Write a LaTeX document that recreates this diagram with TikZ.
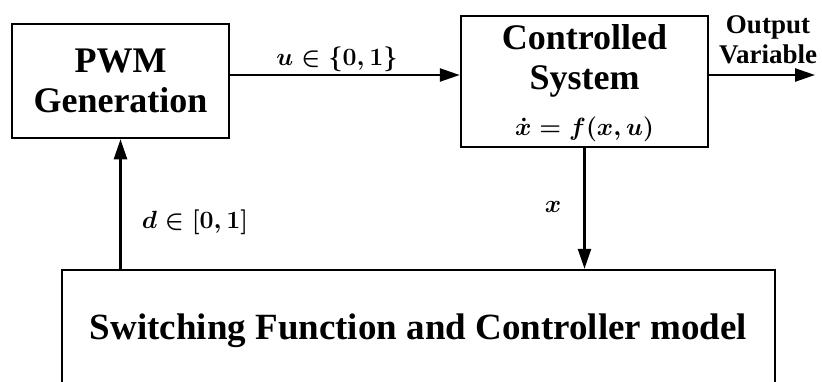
\documentclass[tikz,border=0pt]{standalone}
\usepackage{fontspec}
\setmainfont{Liberation Serif}
\usepackage{amsmath}
\usetikzlibrary{arrows.meta}
\begin{document}
\begin{tikzpicture}[x=1pt,y=-1pt,
		block/.style={draw, line width=2.5pt, align=center, inner sep=0pt, font=\fontsize{36}{40}\selectfont\bfseries},
		blocktext/.style={align=center, inner sep=0pt, font=\fontsize{36}{40}\selectfont\bfseries},
		sig/.style={line width=2.5pt, -{Triangle[length=20pt,width=13pt]}},
		lbl/.style={font=\fontsize{30}{34}\selectfont\boldmath}]
	\useasboundingbox (0,0) rectangle (822,381);
	\clip (0,0) rectangle (822,381);
	
	% blocks
	\node[block, minimum width=217pt, minimum height=114pt] (pwm) at (120.5,81) {PWM\\Generation};
	\node[block, minimum width=247pt, minimum height=131pt] (cs) at (584.5,81.5) {};
	\node[blocktext] (cstxt) at ([yshift=21pt]cs.center) {Controlled\\System};
	\node[font=\fontsize{26}{28}\selectfont\boldmath, inner sep=0pt] (csfx) at ([yshift=19pt]cs.south) {$\dot{x} = f(x,u)$};
	\node[block, minimum width=713pt, minimum height=122pt, font=\fontsize{37}{40}\selectfont\bfseries] (ctrl) at (418.5,331) {Switching Function and Controller model};
	
	% signals
	\coordinate (out) at (815,75);
	\draw[sig] (pwm.east |- out) -- (cs.west |- out);
	\draw[sig] (cs.east |- out) -- (out);
	\draw[sig] (cs.south) -- (cs.south |- ctrl.north);
	\draw[sig] (pwm.south |- ctrl.north) -- (pwm.south);
	
	% labels
	\node[lbl] (ulbl) at (337,59) {$u \in \{0,1\}$};
	\node[lbl] (dlbl) at (195,222) {$d \in [0,1]$};
	\node[lbl] (xlbl) at (553,207) {$x$};
	\node[align=center, font=\fontsize{27}{30}\selectfont\bfseries] (outlbl) at (768,40) {Output\\Variable};
\end{tikzpicture}
\end{document}
